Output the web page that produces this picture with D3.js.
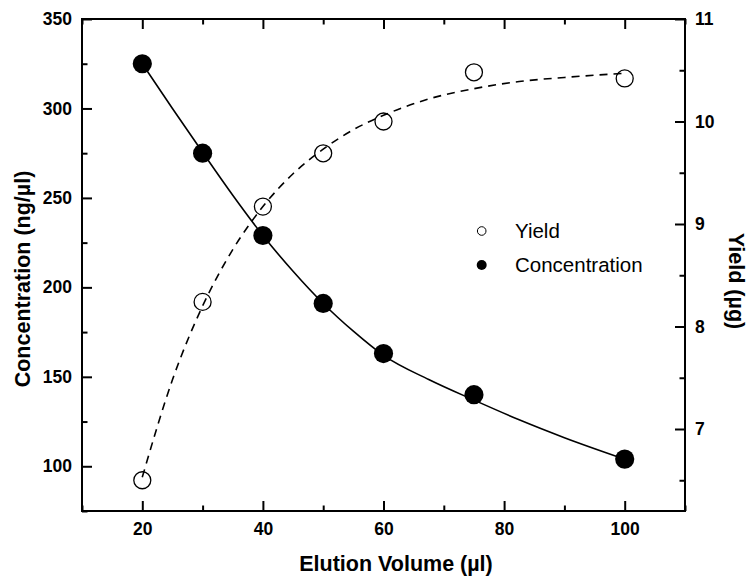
<!DOCTYPE html>
<html><head><meta charset="utf-8">
<script src="https://cdn.jsdelivr.net/npm/d3@7"></script>
<style>body{margin:0;background:#fff} svg{display:block}</style>
</head><body><svg id="c" width="753" height="578"></svg>
<script>
// ---- data ----
const volume = [20, 30, 40, 50, 60, 75, 100];
const concentration = [325, 275, 229, 191, 163, 140, 104];
const yieldVals = [6.50, 8.24, 9.17, 9.69, 10.00, 10.48, 10.42];

// fitted curves
const fitX = [20, 25, 30, 35, 40, 45, 50, 55, 60, 67.5, 75, 82.5, 90, 100];
const concFit = [325, 300, 275.5, 251.5, 229, 209, 191, 175.5, 162, 148.5, 137, 126, 116, 104];
const yieldFit = [6.53, 7.48, 8.20, 8.75, 9.17, 9.49, 9.73, 9.92, 10.06, 10.22, 10.32, 10.39, 10.43, 10.47];

const xTicks = [20, 40, 60, 80, 100];
const xMinorTicks = [10, 30, 50, 70, 90, 110];
const leftTicks = [100, 150, 200, 250, 300, 350];
const leftMinorTicks = [75, 125, 175, 225, 275, 325];
const rightTicks = [7, 8, 9, 10, 11];
const rightMinorTicks = [6.5, 7.5, 8.5, 9.5, 10.5];

const legendLabels = ["Yield", "Concentration"];

// ---- layout ----
const L = 82, R = 685, T = 19, B = 511;
const svg = d3.select("#c");
const FONT = "'Liberation Sans', Arial, Helvetica, sans-serif";
const fmt = d3.format("d");

const x = d3.scaleLinear().domain([10, 110]).range([L, R]);
const yL = d3.scaleLinear().domain([75, 350]).range([B, T]);
const yR = d3.scaleLinear().domain([6.2, 11]).range([B, T]);

function styleAxis(g) {
  g.select(".domain").remove();
  g.selectAll("line").attr("stroke", "#000").attr("stroke-width", 2);
  g.selectAll("text").attr("font-family", FONT).attr("font-weight", "bold")
    .attr("font-size", 17.5).attr("fill", "#000");
}

// bottom axis
svg.append("g").attr("transform", `translate(0,${B})`)
  .call(d3.axisBottom(x).tickValues(xTicks).tickFormat(fmt).tickSizeInner(-10).tickSizeOuter(0).tickPadding(11.5))
  .call(styleAxis);
svg.append("g").attr("transform", `translate(0,${B})`)
  .call(d3.axisBottom(x).tickValues(xMinorTicks).tickFormat("").tickSizeInner(-5.5).tickSizeOuter(0))
  .call(styleAxis);
// top axis
svg.append("g").attr("transform", `translate(0,${T})`)
  .call(d3.axisTop(x).tickValues(xTicks).tickFormat("").tickSizeInner(-10).tickSizeOuter(0))
  .call(styleAxis);
svg.append("g").attr("transform", `translate(0,${T})`)
  .call(d3.axisTop(x).tickValues(xMinorTicks).tickFormat("").tickSizeInner(-5.5).tickSizeOuter(0))
  .call(styleAxis);
// left axis
svg.append("g").attr("transform", `translate(${L},0)`)
  .call(d3.axisLeft(yL).tickValues(leftTicks).tickFormat(fmt).tickSizeInner(-10).tickSizeOuter(0).tickPadding(10))
  .call(styleAxis);
svg.append("g").attr("transform", `translate(${L},0)`)
  .call(d3.axisLeft(yL).tickValues(leftMinorTicks).tickFormat("").tickSizeInner(-5.5).tickSizeOuter(0))
  .call(styleAxis);
// right axis
svg.append("g").attr("transform", `translate(${R},0)`)
  .call(d3.axisRight(yR).tickValues(rightTicks).tickFormat(fmt).tickSizeInner(-10).tickSizeOuter(0).tickPadding(10))
  .call(styleAxis);
svg.append("g").attr("transform", `translate(${R},0)`)
  .call(d3.axisRight(yR).tickValues(rightMinorTicks).tickFormat("").tickSizeInner(-5.5).tickSizeOuter(0))
  .call(styleAxis);

// frame
svg.append("rect").attr("x", L).attr("y", T).attr("width", R - L).attr("height", B - T)
  .attr("fill", "none").attr("stroke", "#000").attr("stroke-width", 2);

// fitted curves
const concLine = d3.line().x((d, i) => x(fitX[i])).y(d => yL(d)).curve(d3.curveMonotoneX);
const yieldLine = d3.line().x((d, i) => x(fitX[i])).y(d => yR(d)).curve(d3.curveMonotoneX);

svg.append("path").datum(yieldFit).attr("d", yieldLine)
  .attr("fill", "none").attr("stroke", "#000").attr("stroke-width", 1.6)
  .attr("stroke-dasharray", "8,6");
svg.append("path").datum(concFit).attr("d", concLine)
  .attr("fill", "none").attr("stroke", "#000").attr("stroke-width", 1.6);

// markers
svg.append("g").selectAll("circle").data(volume).join("circle")
  .attr("cx", d => x(d)).attr("cy", (d, i) => yR(yieldVals[i])).attr("r", 8.5)
  .attr("fill", "none").attr("stroke", "#000").attr("stroke-width", 1.3);
svg.append("g").selectAll("circle").data(volume).join("circle")
  .attr("cx", d => x(d)).attr("cy", (d, i) => yL(concentration[i])).attr("r", 9.6)
  .attr("fill", "#000");

// legend
const lg = svg.append("g");
legendLabels.forEach((lab, i) => {
  const cy = 231 + i * 34;
  lg.append("circle").attr("cx", 481.7).attr("cy", cy).attr("r", i === 0 ? 4.3 : 5)
    .attr("fill", i === 0 ? "#fff" : "#000").attr("stroke", "#000").attr("stroke-width", i === 0 ? 1 : 0);
  lg.append("text").attr("x", 515).attr("y", cy + 7).text(lab)
    .attr("font-family", FONT).attr("font-size", 20.5).attr("fill", "#000");
});

// axis titles
svg.append("text").attr("x", 396).attr("y", 571)
  .attr("text-anchor", "middle").attr("font-family", FONT).attr("font-weight", "bold")
  .attr("font-size", 21.5).text("Elution Volume (\u00B5l)");
svg.append("text").attr("transform", `translate(30,279) rotate(-90)`)
  .attr("text-anchor", "middle").attr("font-family", FONT).attr("font-weight", "bold")
  .attr("font-size", 21.5).text("Concentration (ng/\u00B5l)");
svg.append("text").attr("transform", `translate(729,281) rotate(90)`)
  .attr("text-anchor", "middle").attr("font-family", FONT).attr("font-weight", "bold")
  .attr("font-size", 21.5).text("Yield (\u00B5g)");
</script>
</body></html>
